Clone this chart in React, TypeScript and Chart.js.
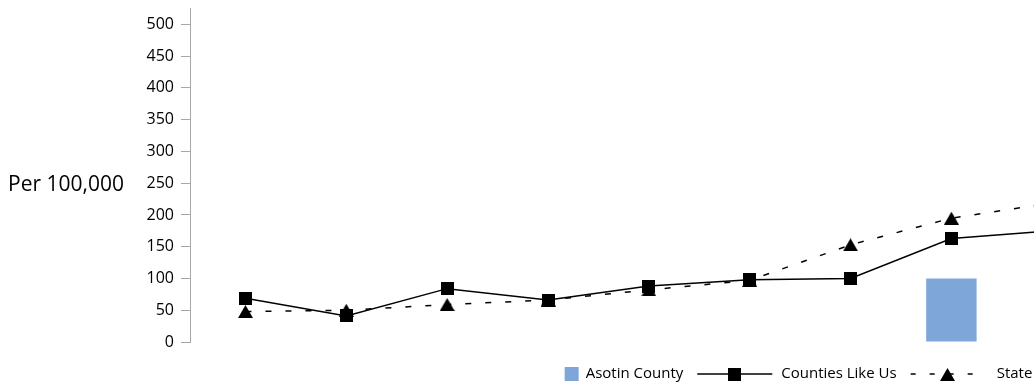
import React, { useEffect, useRef } from 'react';
import { Chart, registerables } from 'chart.js';

Chart.register(...registerables);

// ---- data ----
const categories = ['1', '2', '3', '4', '5', '6', '7', '8', '9'];
const asotinCounty: (number | null)[] = [null, null, null, null, null, null, null, 100, null];
const countiesLikeUs = [69, 41, 84, 66, 88, 98, 100, 163, 175];
const stateValues = [48, 50, 59, 66, 82, 97, 153, 195, 219];
const yTicks = [0, 50, 100, 150, 200, 250, 300, 350, 400, 450, 500];
const seriesNames = ['Asotin County', 'Counties Like Us', 'State'];
const yAxisLabel = 'Per 100,000';

const BAR_COLOR = '#7EA6D9';
const AXIS_GRAY = '#a6a6a6';
const CANVAS_W = 1597;
const CANVAS_H = 386;

function makeSquare(): HTMLCanvasElement {
  const c = document.createElement('canvas');
  c.width = 13;
  c.height = 13;
  const g = c.getContext('2d')!;
  g.fillStyle = '#000';
  g.fillRect(0, 0, 13, 13);
  return c;
}

function makeTriangle(): HTMLCanvasElement {
  const c = document.createElement('canvas');
  c.width = 15;
  c.height = 13;
  const g = c.getContext('2d')!;
  g.fillStyle = '#000';
  g.beginPath();
  g.moveTo(0, 13);
  g.lineTo(7.5, 0);
  g.lineTo(15, 13);
  g.closePath();
  g.fill();
  return c;
}

export default function App() {
  const ref = useRef<HTMLCanvasElement | null>(null);

  useEffect(() => {
    if (!ref.current) return;
    const square = makeSquare();
    const triangle = makeTriangle();
    const toXY = (arr: (number | null)[]) => arr.map((v, i) => ({ x: i, y: v }));

    const overlay = {
      id: 'overlay',
      afterDraw(chart: any) {
        const ctx = chart.ctx as CanvasRenderingContext2D;
        const yScale = chart.scales.y;
        // y axis label (horizontal)
        ctx.save();
        ctx.font = '21px "Open Sans"';
        ctx.fillStyle = '#000';
        ctx.textAlign = 'left';
        ctx.textBaseline = 'middle';
        ctx.fillText(yAxisLabel, 8, yScale.getPixelForValue(250) + 2);
        ctx.restore();

        // legend
        ctx.save();
        ctx.font = '15px "Open Sans"';
        ctx.textBaseline = 'middle';
        ctx.fillStyle = '#000';
        const wA = ctx.measureText(seriesNames[0]).width;
        const wC = ctx.measureText(seriesNames[1]).width;
        const wS = ctx.measureText(seriesNames[2]).width;
        const box = 14, solidLen = 75, dashLen = 78;
        const total = box + 7 + wA + 14 + solidLen + 9 + wC + 12 + dashLen + 10 + wS;
        let x = chart.width / 2 - total / 2;
        const cy = 374;
        ctx.fillStyle = BAR_COLOR;
        ctx.fillRect(x, cy - box / 2, box, box);
        x += box + 7;
        ctx.fillStyle = '#000';
        ctx.fillText(seriesNames[0], x, cy);
        x += wA + 14;
        ctx.strokeStyle = '#000';
        ctx.lineWidth = 1.5;
        ctx.beginPath();
        ctx.moveTo(x, cy);
        ctx.lineTo(x + solidLen, cy);
        ctx.stroke();
        ctx.drawImage(square, Math.round(x + solidLen / 2 - square.width / 2), Math.round(cy - square.height / 2));
        x += solidLen + 9;
        ctx.fillText(seriesNames[1], x, cy);
        x += wC + 12;
        ctx.setLineDash([5, 14]);
        ctx.beginPath();
        ctx.moveTo(x + 2, cy);
        ctx.lineTo(x + dashLen, cy);
        ctx.stroke();
        ctx.setLineDash([]);
        ctx.drawImage(triangle, Math.round(x + dashLen / 2 - triangle.width / 2), Math.round(cy - triangle.height / 2));
        x += dashLen + 10;
        ctx.fillText(seriesNames[2], x, cy);
        ctx.restore();
      },
    };

    const chart = new Chart(ref.current, {
      type: 'bar',
      data: {
        labels: categories,
        datasets: [
          {
            type: 'bar',
            label: seriesNames[0],
            data: toXY(asotinCounty) as any,
            backgroundColor: BAR_COLOR,
            borderWidth: 0,
            categoryPercentage: 1,
            barPercentage: 0.5,
            order: 3,
          },
          {
            type: 'line',
            label: seriesNames[1],
            data: toXY(countiesLikeUs) as any,
            borderColor: '#000',
            borderWidth: 1.5,
            pointStyle: square as any,
            pointRadius: 7,
            tension: 0,
            fill: false,
            order: 1,
          },
          {
            type: 'line',
            label: seriesNames[2],
            data: toXY(stateValues) as any,
            borderColor: '#000',
            borderWidth: 1.5,
            borderDash: [6, 14],
            pointStyle: triangle as any,
            pointRadius: 7,
            tension: 0,
            fill: false,
            order: 2,
          },
        ],
      },
      options: {
        animation: false,
        responsive: false,
        maintainAspectRatio: false,
        layout: { padding: { top: 7, bottom: 44, left: 0, right: 96 } },
        plugins: {
          legend: { display: false },
          tooltip: { enabled: false },
          title: { display: false },
        },
        scales: {
          x: {
            type: 'linear',
            display: false,
            offset: false,
            min: -0.55,
            max: 12.45,
            ticks: { stepSize: 1, includeBounds: false },
            grid: { display: false, offset: false },
          },
          y: {
            type: 'linear',
            min: 0,
            max: 525,
            afterFit: (scale: any) => {
              scale.width = 190;
              scale.paddingTop = 0;
              scale.paddingBottom = 0;
            },
            afterBuildTicks: (scale: any) => {
              scale.ticks = yTicks.map((v) => ({ value: v }));
            },
            ticks: {
              font: { family: '"Open Sans"', size: 16 },
              color: '#000',
              padding: 7,
            },
            grid: {
              drawOnChartArea: false,
              drawTicks: true,
              tickLength: 9,
              color: AXIS_GRAY,
              lineWidth: 1,
            },
            border: { display: true, color: AXIS_GRAY, width: 1 },
          },
        },
      },
      plugins: [overlay],
    } as any);

    return () => chart.destroy();
  }, []);

  return (
    <div style={{ position: 'fixed', left: 0, top: 0, width: '100vw', height: '100vh', overflow: 'hidden', background: '#fff' }}>
      <canvas ref={ref} width={CANVAS_W} height={CANVAS_H} style={{ display: 'block', width: CANVAS_W, height: CANVAS_H }} />
    </div>
  );
}
